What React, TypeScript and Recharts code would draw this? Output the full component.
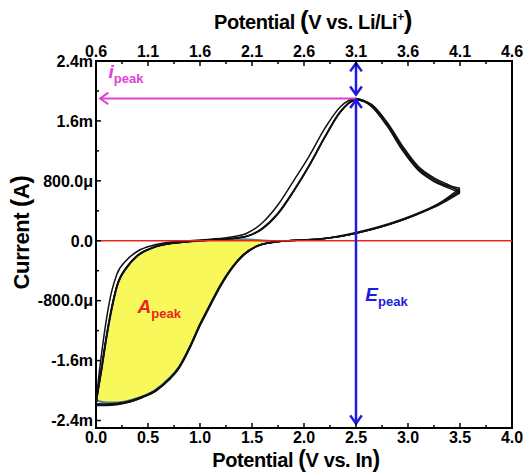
import React from 'react'
import { Area, ComposedChart, Line, ReferenceArea, ReferenceDot, ReferenceLine, XAxis, YAxis } from 'recharts'

const FONT = '"Liberation Sans", Arial, sans-serif'

// anodic sweeps, potential vs. In (V) -> current (mA)
const anodicV = [0, 0.02, 0.05, 0.1, 0.15, 0.2, 0.3, 0.4, 0.55, 0.7, 0.9, 1.1, 1.3, 1.45, 1.6, 1.75, 1.9, 2.05, 2.2, 2.35, 2.5, 2.65, 2.8, 2.95, 3.1, 3.25, 3.4, 3.5]
const anodic1 = [-2.2, -1.9, -1.55, -1.05, -0.68, -0.45, -0.25, -0.14, -0.06, -0.02, 0.0, 0.02, 0.05, 0.1, 0.24, 0.48, 0.8, 1.13, 1.5, 1.79, 1.9, 1.79, 1.53, 1.2, 0.94, 0.8, 0.72, 0.67]
const anodic2 = [-2.18, -2.0, -1.75, -1.3, -0.92, -0.62, -0.35, -0.2, -0.09, -0.04, -0.01, 0.01, 0.03, 0.06, 0.16, 0.36, 0.66, 1.0, 1.38, 1.72, 1.89, 1.82, 1.57, 1.24, 0.97, 0.82, 0.73, 0.7]
const anodic3 = [-2.19, -1.98, -1.72, -1.27, -0.89, -0.6, -0.34, -0.19, -0.09, -0.04, -0.01, 0.01, 0.03, 0.06, 0.17, 0.37, 0.67, 1.01, 1.39, 1.73, 1.88, 1.8, 1.55, 1.22, 0.95, 0.79, 0.7, 0.64]
const anodic4 = [-2.18, -1.99, -1.74, -1.29, -0.91, -0.61, -0.35, -0.2, -0.09, -0.04, -0.01, 0.01, 0.03, 0.06, 0.16, 0.36, 0.66, 1.0, 1.38, 1.72, 1.88, 1.81, 1.58, 1.26, 0.99, 0.84, 0.74, 0.66]

// cathodic sweeps (stored with rising potential)
const cathodicV = [0, 0.1, 0.2, 0.33, 0.45, 0.58, 0.7, 0.8, 0.9, 1.0, 1.1, 1.2, 1.3, 1.42, 1.55, 1.7, 1.85, 2.0, 2.2, 2.5, 2.8, 3.1, 3.3, 3.5]
const cathodic1 = [-2.2, -2.2, -2.19, -2.15, -2.09, -2.0, -1.86, -1.7, -1.44, -1.13, -0.86, -0.6, -0.38, -0.19, -0.07, -0.02, 0.0, 0.01, 0.03, 0.1, 0.21, 0.36, 0.49, 0.67]
const cathodic2 = [-2.18, -2.19, -2.18, -2.14, -2.08, -1.99, -1.85, -1.68, -1.42, -1.11, -0.84, -0.58, -0.37, -0.18, -0.07, -0.02, 0.0, 0.01, 0.03, 0.1, 0.21, 0.36, 0.5, 0.7]
const cathodic3 = [-2.19, -2.19, -2.18, -2.15, -2.09, -2.0, -1.86, -1.69, -1.43, -1.12, -0.85, -0.59, -0.38, -0.19, -0.07, -0.02, 0.0, 0.01, 0.03, 0.1, 0.21, 0.36, 0.48, 0.64]
const cathodic4 = [-2.18, -2.18, -2.17, -2.14, -2.08, -1.99, -1.85, -1.69, -1.43, -1.12, -0.85, -0.59, -0.37, -0.18, -0.07, -0.02, 0.0, 0.01, 0.03, 0.11, 0.22, 0.37, 0.5, 0.66]

// shaded A_peak region
const areaV = [0, 0.05, 0.1, 0.15, 0.2, 0.3, 0.4, 0.55, 0.7, 0.8, 0.9, 1.0, 1.1, 1.2, 1.3, 1.42, 1.55, 1.65, 1.77]
const areaUpper = [-2.13, -1.75, -1.3, -0.92, -0.62, -0.35, -0.2, -0.09, -0.04, -0.02, -0.01, 0.0, 0.01, 0.02, 0.02, 0.02, 0.01, 0.0, -0.01]
const areaLower = [-2.13, -2.15, -2.16, -2.16, -2.16, -2.14, -2.1, -2.01, -1.84, -1.68, -1.42, -1.13, -0.86, -0.6, -0.38, -0.19, -0.07, -0.03, -0.01]

const bottomMajor = [0, 0.5, 1, 1.5, 2, 2.5, 3, 3.5, 4]
const bottomMinor = [0.25, 0.75, 1.25, 1.75, 2.25, 2.75, 3.25, 3.75]
const topMajor = [0.6, 1.1, 1.6, 2.1, 2.6, 3.1, 3.6, 4.1, 4.6]
const topMinor = [0.85, 1.35, 1.85, 2.35, 2.85, 3.35, 3.85, 4.35]
const yMajor = [2.4, 1.6, 0.8, 0, -0.8, -1.6, -2.4]
const yMajorLabels = ['2.4m', '1.6m', '800.0\u03bc', '0.0', '-800.0\u03bc', '-1.6m', '-2.4m']
const yMinor = [2.0, 1.2, 0.4, -0.4, -1.2, -2.0]

const peakV = 2.5
const peakI = 1.9

const PINK = '#e040d4'
const BLUE = '#1c1ce0'
const RED = '#e8261e'

const toPoints = (vs: number[], is: number[]) => vs.map((v, k) => ({ v, i: is[k] }))
const cycles = [
  [anodic1, cathodic1],
  [anodic2, cathodic2],
  [anodic3, cathodic3],
  [anodic4, cathodic4],
]
const areaData = areaV.map((v, k) => ({ v, band: [areaLower[k], areaUpper[k]] }))

const findIndex = (list: number[], v: number) => list.findIndex(m => Math.abs(m - v) < 1e-6)

const tickText = { fontFamily: FONT, fontWeight: 'bold' as const, fontSize: 16, fill: '#000' }

function BottomTick({ x, y, payload }: any) {
  const major = findIndex(bottomMajor, payload.value) >= 0
  const axisY = y - 3
  return (
    <g>
      <line x1={x} x2={x} y1={axisY} y2={axisY - (major ? 5 : 3)} stroke="#000" strokeWidth={1.5} />
      {major && <text x={x} y={axisY + 15} textAnchor="middle" {...tickText}>{payload.value.toFixed(1)}</text>}
    </g>
  )
}

function TopTick({ x, y, payload }: any) {
  const major = findIndex(topMajor, payload.value) >= 0
  const axisY = y + 3
  return (
    <g>
      <line x1={x} x2={x} y1={axisY} y2={axisY + (major ? 5 : 3)} stroke="#000" strokeWidth={1.5} />
      {major && <text x={x} y={axisY - 4} textAnchor="middle" {...tickText}>{payload.value.toFixed(1)}</text>}
    </g>
  )
}

function LeftTick({ x, y, payload }: any) {
  const k = findIndex(yMajor, payload.value)
  const axisX = x + 3
  return (
    <g>
      <line x1={axisX} x2={axisX + (k >= 0 ? 5 : 3)} y1={y} y2={y} stroke="#000" strokeWidth={1.5} />
      {k >= 0 && <text x={x} y={y} dy="0.36em" textAnchor="end" {...tickText}>{yMajorLabels[k]}</text>}
    </g>
  )
}

function arrowShape(color: string, width: number, headStart: boolean, headEnd: boolean) {
  return (p: any) => {
    const { x1, y1, x2, y2 } = p
    const ang = Math.atan2(y2 - y1, x2 - x1)
    const head = (x: number, y: number, a: number) => {
      const len = 10
      const spread = 0.62
      return `M${x + len * Math.cos(a + spread)},${y + len * Math.sin(a + spread)} L${x},${y} L${x + len * Math.cos(a - spread)},${y + len * Math.sin(a - spread)}`
    }
    return (
      <g>
        <line x1={x1} y1={y1} x2={x2} y2={y2} stroke={color} strokeWidth={width} />
        {headStart && <path d={head(x1, y1, ang)} fill="none" stroke={color} strokeWidth={width} />}
        {headEnd && <path d={head(x2, y2, ang + Math.PI)} fill="none" stroke={color} strokeWidth={width} />}
      </g>
    )
  }
}

function subLabel(main: string, sub: string, color: string) {
  return (p: any) => (
    <text x={p.cx} y={p.cy} fill={color} fontFamily={FONT} fontWeight="bold">
      <tspan fontStyle="italic" fontSize={19}>{main}</tspan>
      <tspan fontSize={13} dy={5}>{sub}</tspan>
    </text>
  )
}

const titleStyle = { fontFamily: FONT, fontWeight: 'bold' as const, fill: '#000', letterSpacing: -0.4 }

export default function App() {
  return (
    <div style={{ position: 'fixed', left: 0, top: 0, background: '#fff' }}>
      <ComposedChart width={525} height={472} data={areaData} margin={{ top: 0, right: 13, bottom: 0, left: 0 }}>
        <XAxis
          dataKey="v"
          type="number"
          domain={[0, 4]}
          allowDataOverflow
          ticks={[...bottomMajor, ...bottomMinor]}
          interval={0}
          height={44}
          tickSize={0}
          tickMargin={3}
          tickLine={false}
          axisLine={false}
          tick={<BottomTick />}
          label={{
            content: ({ viewBox }: any) => (
              <text x={viewBox.x + viewBox.width / 2 - 8} y={viewBox.y + 39} textAnchor="middle" fontSize={20} {...titleStyle}>
                Potential <tspan fontSize={23}>(</tspan>V vs. In<tspan fontSize={23}>)</tspan>
              </text>
            ),
          }}
        />
        <XAxis
          xAxisId="top"
          orientation="top"
          dataKey="v"
          type="number"
          domain={[0.6, 4.6]}
          allowDataOverflow
          ticks={[...topMajor, ...topMinor]}
          interval={0}
          height={61}
          tickSize={0}
          tickMargin={3}
          tickLine={false}
          axisLine={false}
          tick={<TopTick />}
          label={{
            content: ({ viewBox }: any) => (
              <text x={viewBox.x + viewBox.width / 2 + 9} y={29} textAnchor="middle" fontSize={20} {...titleStyle}>
                Potential <tspan fontSize={26}>(</tspan>V vs. Li/Li<tspan fontSize={12} dy={-8}>+</tspan><tspan fontSize={26} dy={8}>)</tspan>
              </text>
            ),
          }}
        />
        <YAxis
          type="number"
          domain={[-2.5, 2.4]}
          allowDataOverflow
          ticks={[...yMajor, ...yMinor]}
          interval={0}
          width={96}
          tickSize={0}
          tickMargin={3}
          tickLine={false}
          axisLine={false}
          tick={<LeftTick />}
          label={{
            content: ({ viewBox }: any) => {
              const cx = viewBox.x + 21
              const cy = viewBox.y + viewBox.height / 2 - 12
              return (
                <text x={cx} y={cy} transform={`rotate(-90 ${cx} ${cy})`} textAnchor="middle" dy="0.35em" fontSize={22} {...titleStyle}>
                  Current <tspan fontSize={25}>(</tspan>A<tspan fontSize={25}>)</tspan>
                </text>
              )
            },
          }}
        />

        {cycles.map(([an, ca], k) => (
          <Line key={`a${k}`} data={toPoints(anodicV, an)} dataKey="i" type="monotone" stroke="#111" strokeWidth={1.5} dot={false} activeDot={false} isAnimationActive={false} />
        ))}
        {cycles.map(([an, ca], k) => (
          <Line key={`c${k}`} data={toPoints(cathodicV, ca)} dataKey="i" type="monotone" stroke="#111" strokeWidth={1.5} dot={false} activeDot={false} isAnimationActive={false} />
        ))}

        <Area dataKey="band" type="monotone" fill="#f9f85a" fillOpacity={1} stroke="#5b7b96" strokeWidth={2} isAnimationActive={false} />

        <ReferenceLine y={0} stroke={RED} strokeWidth={1.5} />

        <ReferenceLine segment={[{ x: peakV, y: peakI }, { x: 0.04, y: peakI }]} shape={arrowShape(PINK, 2, false, true)} />
        <ReferenceLine segment={[{ x: peakV, y: 2.37 }, { x: peakV, y: 1.95 }]} shape={arrowShape(BLUE, 2.5, true, true)} />
        <ReferenceLine segment={[{ x: peakV, y: 1.88 }, { x: peakV, y: -2.44 }]} shape={arrowShape(BLUE, 2.5, true, true)} />

        <ReferenceDot x={0.12} y={2.17} r={0} shape={subLabel('i', 'peak', PINK)} />
        <ReferenceDot x={2.59} y={-0.81} r={0} shape={subLabel('E', 'peak', BLUE)} />
        <ReferenceDot x={0.4} y={-0.97} r={0} shape={subLabel('A', 'peak', RED)} />

        <ReferenceArea x1={0} x2={4} y1={-2.5} y2={2.4} fill="none" stroke="#000" strokeWidth={2} />
      </ComposedChart>
    </div>
  )
}
